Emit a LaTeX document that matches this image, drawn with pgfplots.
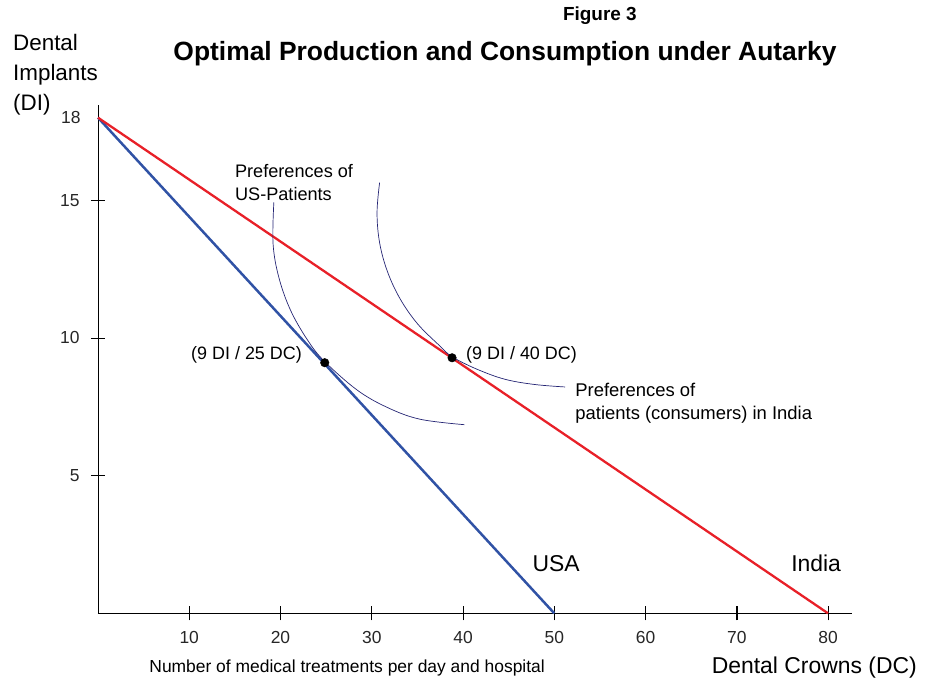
\documentclass[border=0pt]{standalone}
\usepackage{pgfplots}
\pgfplotsset{compat=1.18}
\usepackage{fontspec}
\setmainfont{Liberation Sans}
\definecolor{indred}{RGB}{232,32,40}
\definecolor{usblue}{RGB}{48,82,165}
\definecolor{prefc}{RGB}{35,35,115}
\begin{document}
\begin{tikzpicture}
\path[use as bounding box] (-98bp,-69.7bp) rectangle (827bp,613.3bp);
\begin{axis}[
  at={(0,0)}, anchor=south west,
  scale only axis, width=754bp, height=508.3bp,
  xmin=0, xmax=82.63, ymin=0, ymax=18.46,
  axis lines=left,
  axis line style={line width=0.9pt, -},
  clip=false,
  xtick={10,20,30,40,50,60,80},
  extra x ticks={70},
  extra x tick style={major tick style={line width=1.8pt}},
  ytick={5,10,15},
  extra y ticks={18},
  extra y tick style={major tick length=0pt, yticklabel style={xshift=-6bp}},
  tick align=center,
  major tick length=14bp,
  tick style={black, line width=0.8pt},
  /pgf/number format/assume math mode=true,
  ticklabel style={font=\fontsize{17.5}{17.5}\selectfont, text=black!85},
  xticklabel style={yshift=-8bp},
  yticklabel style={xshift=-8bp},
]
\addplot[usblue, line width=2.5pt] coordinates {(0,18) (50,0)};
\addplot[indred, line width=2.3pt] coordinates {(0,18) (80,0)};
\addplot[prefc, line width=0.7pt, smooth, tension=0.6] coordinates {
 (19.27,14.92) (19.19,13.40) (19.85,12.16) (21.15,10.97) (23.05,9.88)
 (24.88,9.13) (28.39,8.11) (31.68,7.48) (35.27,7.05) (40.14,6.85)};
\addplot[prefc, line width=0.7pt, smooth, tension=0.6] coordinates {
 (30.86,15.64) (30.58,14.55) (30.86,13.46) (31.72,12.41) (33.11,11.42)
 (35.00,10.52) (37.33,9.75) (38.80,9.32) (41.49,8.87) (44.59,8.50)
 (47.84,8.31) (51.18,8.22)};
\addplot[only marks, mark=*, mark size=4.3pt, black] coordinates {(24.85,9.1) (38.8,9.28)};
\node[font=\fontsize{18}{18}\selectfont, anchor=east, inner sep=0pt] at (axis cs:22.36,9.38) {(9 DI / 25 DC)};
\node[font=\fontsize{18}{18}\selectfont, anchor=west, inner sep=0pt] at (axis cs:40.33,9.38) {(9 DI / 40 DC)};
\node[font=\fontsize{18.2}{23}\selectfont, anchor=north west, align=left, inner sep=0pt] at (axis cs:15.0,16.3) {Preferences of\\US-Patients};
\node[font=\fontsize{18.5}{23}\selectfont, anchor=north west, align=left, inner sep=0pt] at (axis cs:52.3,8.38) {Preferences of\\patients (consumers) in India};
\node[font=\fontsize{23}{23}\selectfont] at (axis cs:50.2,1.8) {USA};
\node[font=\fontsize{23}{23}\selectfont] at (axis cs:78.7,1.8) {India};
\node[font=\fontsize{23}{23}\selectfont] at (axis cs:78.5,-1.98) {Dental Crowns (DC)};
\node[font=\fontsize{17.5}{17.5}\selectfont] at (axis cs:27.3,-1.98) {Number of medical treatments per day and hospital};
\node[font=\fontsize{22.5}{30}\selectfont, anchor=north west, align=left, inner sep=0pt] at (axis cs:-9.32,21.03) {Dental\\Implants\\(DI)};
\node[font=\bfseries\fontsize{19}{19}\selectfont] at (axis cs:55.0,21.7) {Figure 3};
\node[font=\bfseries\fontsize{26.5}{26.5}\selectfont] at (axis cs:44.6,20.33) {Optimal Production and Consumption under Autarky};
\end{axis}
\end{tikzpicture}
\end{document}
